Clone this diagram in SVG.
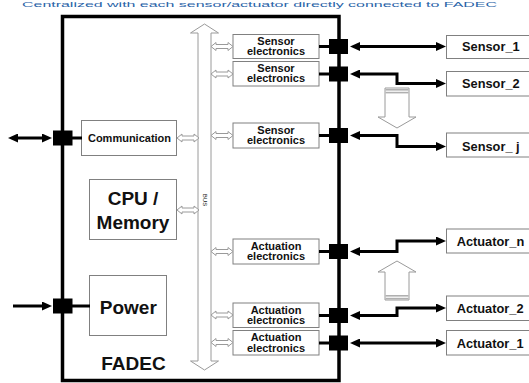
<svg xmlns="http://www.w3.org/2000/svg" width="529" height="383" viewBox="0 0 529 383">
<style>
.bx{fill:#fff;stroke:#808080;stroke-width:1}
.hol{fill:#fff;stroke:#9a9a9a;stroke-width:1}
.jn{fill:#000}
.wire{fill:none;stroke:#000;stroke-width:3}
.t{font-family:"Liberation Sans",Arial,sans-serif;font-weight:bold;fill:#111}
.s11{font-size:11px}
.s13{font-size:12.8px}
.s19{font-size:19px}
</style>
<defs>
<marker id="ah" viewBox="0 0 10 9" refX="3" refY="4.5" markerWidth="10" markerHeight="9" markerUnits="userSpaceOnUse" orient="auto-start-reverse">
<path d="M0,0 L10,4.5 L0,9 Z" fill="#000"/>
</marker>
<path id="link" d="M0,0 L5,-4 L5,-2 L17,-2 L17,-4 L22,0 L17,4 L17,2 L5,2 L5,4 Z"/>
</defs>

<text x="22" y="6.5" class="t" style="font-size:8px;font-weight:normal;fill:#2a64a8" textLength="475" lengthAdjust="spacingAndGlyphs">Centralized with each sensor/actuator directly connected to FADEC</text>

<g id="fadec">
<rect x="62.5" y="16.5" width="276.5" height="364" fill="#fff" stroke="#000" stroke-width="3.5"/>
<text x="133.5" y="370" class="t s19" text-anchor="middle">FADEC</text>
</g>

<g id="bus">
<path class="hol" d="M204.5,24 L218.5,33 L211,33 L211,361 L218.5,361 L204.5,370 L190.5,361 L198,361 L198,33 L190.5,33 Z"/>
<text class="t" style="font-size:6px;font-weight:normal" transform="translate(202.5,200) rotate(90)" text-anchor="middle">BUS</text>
</g>

<g id="communication">
<rect class="bx" x="81.5" y="120.5" width="95" height="35"/>
<text x="129.5" y="142.3" class="t s11" text-anchor="middle">Communication</text>
</g>
<g id="cpu">
<rect class="bx" x="89.5" y="179.5" width="87" height="60"/>
<text x="133" y="204.5" class="t s19" text-anchor="middle">CPU /</text>
<text x="133" y="228.5" class="t s19" text-anchor="middle">Memory</text>
</g>
<g id="power">
<rect class="bx" x="89.5" y="275.5" width="77" height="60"/>
<text x="128.3" y="313.5" class="t s19" text-anchor="middle">Power</text>
</g>

<g id="sensor-elec-1">
<rect class="bx" x="233" y="34.5" width="86" height="24"/>
<text x="276" y="44.5" class="t s11" text-anchor="middle">Sensor</text>
<text x="276" y="55" class="t s11" text-anchor="middle">electronics</text>
</g>
<g id="sensor-elec-2">
<rect class="bx" x="233" y="61.5" width="86" height="24.5"/>
<text x="276" y="71.5" class="t s11" text-anchor="middle">Sensor</text>
<text x="276" y="82" class="t s11" text-anchor="middle">electronics</text>
</g>
<g id="sensor-elec-j">
<rect class="bx" x="233" y="123" width="86" height="25"/>
<text x="276" y="133.5" class="t s11" text-anchor="middle">Sensor</text>
<text x="276" y="144" class="t s11" text-anchor="middle">electronics</text>
</g>
<g id="act-elec-n">
<rect class="bx" x="233" y="239" width="86" height="25"/>
<text x="276" y="249.5" class="t s11" text-anchor="middle">Actuation</text>
<text x="276" y="260" class="t s11" text-anchor="middle">electronics</text>
</g>
<g id="act-elec-2">
<rect class="bx" x="233" y="303" width="86" height="24.5"/>
<text x="276" y="313.5" class="t s11" text-anchor="middle">Actuation</text>
<text x="276" y="324" class="t s11" text-anchor="middle">electronics</text>
</g>
<g id="act-elec-1">
<rect class="bx" x="233" y="330.5" width="86" height="24.5"/>
<text x="276" y="341" class="t s11" text-anchor="middle">Actuation</text>
<text x="276" y="351.5" class="t s11" text-anchor="middle">electronics</text>
</g>

<g id="sensor-1">
<rect class="bx" x="446.5" y="35.5" width="90" height="23"/>
<text x="462" y="51" class="t s13">Sensor_1</text>
</g>
<g id="sensor-2">
<rect class="bx" x="446.5" y="71.5" width="90" height="24.5"/>
<text x="462" y="87.5" class="t s13">Sensor_2</text>
</g>
<g id="sensor-j">
<rect class="bx" x="446.5" y="133" width="90" height="24"/>
<text x="462" y="151" class="t s13">Sensor_ j</text>
</g>
<g id="actuator-n">
<rect class="bx" x="446.5" y="229" width="90" height="24"/>
<text x="456.7" y="246" class="t s13">Actuator_n</text>
</g>
<g id="actuator-2">
<rect class="bx" x="446.5" y="296" width="90" height="24.5"/>
<text x="456.7" y="312.7" class="t s13">Actuator_2</text>
</g>
<g id="actuator-1">
<rect class="bx" x="446.5" y="330.5" width="90" height="24.5"/>
<text x="456.7" y="347.7" class="t s13">Actuator_1</text>
</g>

<g id="scan-arrows">
<path class="hol" d="M385,88 L409,88 L409,117 L416,117 L397,128 L378,117 L385,117 Z"/>
<rect x="385.5" y="89" width="23" height="1.6" fill="#b0b0b0"/>
<rect x="385.5" y="91.8" width="23" height="1.6" fill="#b0b0b0"/>
<path class="hol" d="M385,300 L409,300 L409,272 L416,272 L397,261 L378,272 L385,272 Z"/>
<rect x="385.5" y="295" width="23" height="1.6" fill="#b0b0b0"/>
<rect x="385.5" y="297.8" width="23" height="1.6" fill="#b0b0b0"/>
</g>

<g id="connectors">
<g class="hol">
<use href="#link" x="211" y="46.5"/>
<use href="#link" x="211" y="74"/>
<use href="#link" x="211" y="135.5"/>
<use href="#link" x="211" y="251.5"/>
<use href="#link" x="211" y="315"/>
<use href="#link" x="211" y="342.5"/>
<use href="#link" x="177" y="138"/>
<use href="#link" x="177" y="210"/>
</g>
<g class="wire">
<path d="M72,138 H82"/>
<path d="M72,306 H90"/>
<path d="M319,46.5 H330"/>
<path d="M319,74 H330"/>
<path d="M319,135.5 H330"/>
<path d="M319,251.5 H330"/>
<path d="M319,315.5 H330"/>
<path d="M319,343 H330"/>
<path d="M15,138 H45" marker-start="url(#ah)" marker-end="url(#ah)"/>
<path d="M13,306 H45" marker-end="url(#ah)"/>
<path d="M357,46.5 H439" marker-start="url(#ah)" marker-end="url(#ah)"/>
<path d="M357,74 H397 V83.5 H439" marker-start="url(#ah)" marker-end="url(#ah)"/>
<path d="M357,135.5 H397 V146.5 H439" marker-start="url(#ah)" marker-end="url(#ah)"/>
<path d="M357,251.5 H397 V241 H439" marker-start="url(#ah)" marker-end="url(#ah)"/>
<path d="M357,315.5 H397 V308 H439" marker-start="url(#ah)" marker-end="url(#ah)"/>
<path d="M357,343 H439" marker-start="url(#ah)" marker-end="url(#ah)"/>
</g>
<g class="jn">
<rect x="53" y="130.5" width="19.5" height="15"/>
<rect x="53" y="298.5" width="19.5" height="15"/>
<rect x="329" y="39" width="19" height="15"/>
<rect x="329" y="66.5" width="19" height="15"/>
<rect x="329" y="128" width="19" height="15"/>
<rect x="329" y="244" width="19" height="15"/>
<rect x="329" y="308" width="19" height="15"/>
<rect x="329" y="335.5" width="19" height="15"/>
</g>
</g>
</svg>
